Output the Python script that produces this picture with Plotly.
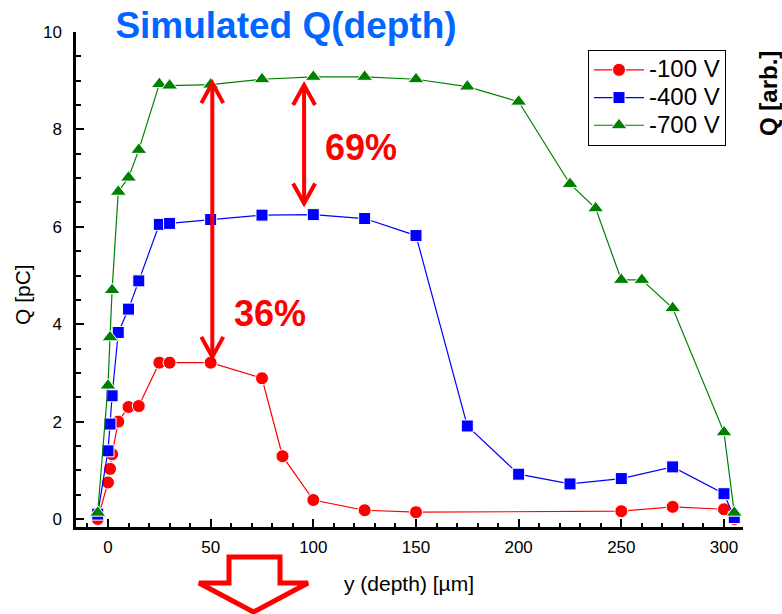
import plotly.graph_objects as go

# Collected charge versus depth for three bias voltages
depth_100 = [-5, 0, 1, 2, 5, 10, 15, 25, 30, 50, 75, 85, 100, 125, 150, 250, 275, 300, 305]
q_100 = [0.0, 0.75, 1.03, 1.33, 2.0, 2.3, 2.32, 3.21, 3.21, 3.21, 2.89, 1.29, 0.39, 0.18, 0.14,
         0.16, 0.25, 0.2, 0.0]

depth_400 = [-5, 0, 1, 2, 5, 10, 15, 25, 30, 50, 75, 100, 125, 150, 175, 200, 225, 250, 275,
             300, 305]
q_400 = [0.1, 1.4, 1.95, 2.53, 3.83, 4.31, 4.89, 6.05, 6.07, 6.15, 6.24, 6.25, 6.17, 5.82, 1.91,
         0.92, 0.72, 0.83, 1.07, 0.52, 0.03]

depth_700 = [-5, 0, 1, 2, 5, 10, 15, 25, 30, 50, 75, 100, 125, 150, 175, 200, 225, 237.5, 250,
             260, 275, 300, 305]
q_700 = [0.13, 2.74, 3.73, 4.70, 6.72, 7.01, 7.58, 8.93, 8.90, 8.92, 9.03, 9.08, 9.08, 9.03, 8.88,
         8.57, 6.88, 6.38, 4.91, 4.91, 4.33, 1.78, 0.13]

series_names = ["-100 V", "-400 V", "-700 V"]
x_ticks = [0, 50, 100, 150, 200, 250, 300]
y_ticks = [0, 2, 4, 6, 8, 10]

# ratio annotations: (x position, upper Q, lower Q) and (label, x, y)
ratio_arrows = [(50.8, 8.95, 3.33), (95.5, 8.91, 6.48)]
ratio_labels = [("36%", 78.9, 4.22), ("69%", 123.0, 7.63)]

W, H = 782, 614
M_L, M_R, M_T, M_B = 76, 39, 32, 87
X_RANGE = [-15.58, 309.26]
Y_RANGE = [-0.164, 10.0]
PW, PH = W - M_L - M_R, H - M_T - M_B
PPX = PW / (X_RANGE[1] - X_RANGE[0])
PPY = PH / (Y_RANGE[1] - Y_RANGE[0])

FONT = "Arial, 'Liberation Sans', sans-serif"


def paper_x(px):
    return (px - M_L) / PW


def paper_y(py):
    return (H - M_B - py) / PH


fig = go.Figure()

styles = [
    ("#FF0000", "circle", 13),
    ("#0000FF", "square", 12),
    ("#008000", "triangle-up", 14),
]
for (xs, ys), name, (color, symbol, size) in zip(
    [(depth_100, q_100), (depth_400, q_400), (depth_700, q_700)], series_names, styles
):
    fig.add_trace(
        go.Scatter(
            x=xs,
            y=ys,
            name=f'<span style="font-size:24px">{name}</span>',
            mode="lines+markers",
            line=dict(color=color, width=1.2),
            marker=dict(symbol=symbol, size=size, color=color,
                        line=dict(color="white", width=1)),
        )
    )

shapes = []
# double-headed red arrows between curves
hw, hh = 11 / PPX, 20 / PPY
for x, top, bot in ratio_arrows:
    shapes.append(dict(type="line", xref="x", yref="y", x0=x, x1=x, y0=top, y1=bot,
                       line=dict(color="#FF0000", width=4)))
    shapes.append(dict(type="path", xref="x", yref="y",
                       path=f"M{x - hw},{top - hh} L{x},{top} L{x + hw},{top - hh}",
                       line=dict(color="#FF0000", width=4)))
    shapes.append(dict(type="path", xref="x", yref="y",
                       path=f"M{x - hw},{bot + hh} L{x},{bot} L{x + hw},{bot + hh}",
                       line=dict(color="#FF0000", width=4)))

# outlined block arrow under the depth axis
block = [(229, 557), (280, 557), (280, 583), (308, 583), (253.5, 612), (199, 583), (229, 583)]
path = "M" + " L".join(f"{paper_x(px)},{paper_y(py)}" for px, py in block) + " Z"
shapes.append(dict(type="path", xref="paper", yref="paper", path=path,
                   fillcolor="white", line=dict(color="#FF0000", width=5)))

annotations = []
for text, x, y in ratio_labels:
    annotations.append(dict(text=text, x=x, y=y, xref="x", yref="y", showarrow=False,
                            font=dict(family=FONT, size=36, color="#FF0000", weight="bold"),
                            xanchor="center", yanchor="middle"))

annotations.append(dict(text="Q [pC]", x=paper_x(22), y=paper_y(295), xref="paper", yref="paper",
                        showarrow=False, textangle=-90, xanchor="center", yanchor="middle",
                        font=dict(family=FONT, size=21, color="black")))
annotations.append(dict(text="y (depth) [\u00b5m]", x=paper_x(409), y=paper_y(583), xref="paper",
                        yref="paper", showarrow=False, xanchor="center", yanchor="middle",
                        font=dict(family=FONT, size=21, color="black")))
annotations.append(dict(text="Q [arb.]", x=paper_x(768), y=paper_y(94), xref="paper",
                        yref="paper", showarrow=False, textangle=-90, xanchor="center",
                        yanchor="middle",
                        font=dict(family=FONT, size=24, color="black", weight="bold")))

axis_common = dict(
    showgrid=False,
    zeroline=False,
    showline=True,
    linecolor="black",
    linewidth=2.5,
    ticks="inside",
    ticklen=8,
    tickwidth=2,
    tickcolor="black",
    mirror=False,
    tickfont=dict(family=FONT, size=17, color="black"),
)

fig.update_layout(
    width=W,
    height=H,
    margin=dict(l=M_L, r=M_R, t=M_T, b=M_B, pad=0),
    paper_bgcolor="white",
    plot_bgcolor="white",
    title=dict(text="Simulated Q(depth)", xref="container", yref="container",
               x=286 / W, y=1 - 25 / H, xanchor="center", yanchor="middle",
               font=dict(family=FONT, size=37, color="#0066FF", weight="bold")),
    xaxis=dict(range=X_RANGE, tickmode="array", tickvals=x_ticks,
               ticktext=[str(v) for v in x_ticks], ticklabelstandoff=3,
               minor=dict(dtick=10, tick0=0, ticks="inside", ticklen=4, tickwidth=2,
                          tickcolor="black"),
               **axis_common),
    yaxis=dict(range=Y_RANGE, tickmode="array", tickvals=y_ticks,
               ticktext=[str(v) for v in y_ticks], ticklabelstandoff=8,
               minor=dict(dtick=0.5, tick0=0, ticks="inside", ticklen=5, tickwidth=2,
                          tickcolor="black"),
               **axis_common),
    legend=dict(x=paper_x(588), y=paper_y(50), xanchor="left", yanchor="top",
                bgcolor="white", bordercolor="black", borderwidth=1,
                font=dict(family=FONT, size=19, color="black"),
                itemwidth=50, tracegroupgap=0),
    shapes=shapes,
    annotations=annotations,
    showlegend=True,
)

fig.write_html("out.html")
